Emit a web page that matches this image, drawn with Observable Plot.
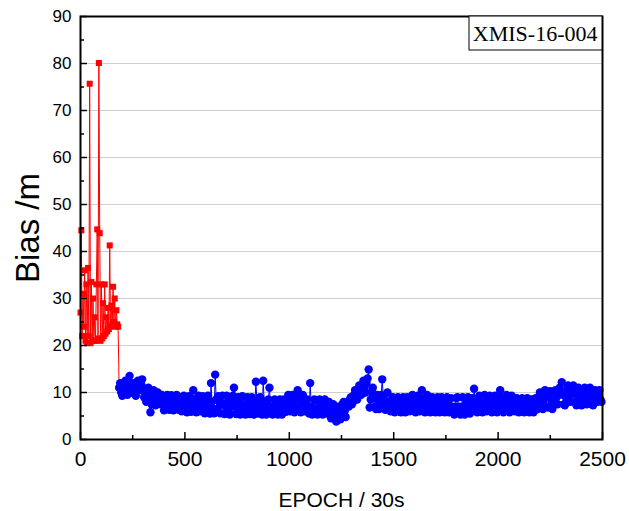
<!DOCTYPE html>
<html>
<head>
<meta charset="utf-8">
<script src="https://cdn.jsdelivr.net/npm/d3@7"></script>
<script src="https://cdn.jsdelivr.net/npm/@observablehq/plot@0.6"></script>
<style>
  html, body { margin: 0; padding: 0; background: #fff; }
  #chart { width: 629px; height: 511px; }
</style>
</head>
<body>
<div id="chart"></div>
<script>
// ---- data ----
const stationName = "XMIS-16-004";
const xTickLabels = [0, 500, 1000, 1500, 2000, 2500];
const yTickLabels = [0, 10, 20, 30, 40, 50, 60, 70, 80, 90];

// red series: epochs 0..180, step 4
const redStart = 0, redStep = 4;
const redBias = [27, 44.5, 22, 31, 24, 36, 21, 33, 20.5, 36.5,
                 22, 75.7, 20.5, 33.5, 21, 30, 21, 26, 21, 33,
                 44.7, 21.5, 80.1, 43.9, 21, 33, 21.5, 29, 22, 33,
                 22.5, 26, 23, 28, 23.5, 41.3, 24, 28.5, 24.5, 32.5,
                 25, 30, 24, 27.5, 24.5, 24];

// blue series: epochs 185..2495, step 5 (one row = 100 epochs)
const blueStart = 185, blueStep = 5;
const blueBias = [
  11, 12, 10, 9.3, 10.5, 11.5, 12.5, 11, 9.5, 11, 13.5, 12, 10, 11, 12, 9.8, 9.3, 11, 12.5, 11.5,
  10.5, 12, 12.8, 11, 9, 10, 8, 9.5, 11, 10, 5.8, 7.5, 9, 10.5, 9, 7.3, 8.5, 10, 7.8, 9,
  7.5, 9.5, 8, 6.2, 7, 9, 9.5, 7.5, 6.3, 8, 9.4, 7.8, 6.2, 6.8, 8.5, 9.5, 7.5, 6.3, 8, 9,
  6, 7.5, 9.3, 8.5, 6.5, 5.8, 7.5, 9.2, 8, 5.9, 7.5, 10.5, 8.5, 6.5, 5.8, 8, 9.3, 7.5, 6, 8.5,
  9.2, 7.5, 5.6, 6.5, 8.5, 9.3, 7.5, 5.5, 12, 8, 6.5, 5.6, 13.8, 8.5, 6.5, 9.2, 8, 5.6, 7.5, 9.3,
  7.5, 5.4, 7, 9.3, 8, 6, 5.3, 7, 8.5, 9.3, 11, 7.5, 5.4, 6.5, 9, 7, 5.3, 7.5, 9.2, 7.5,
  6, 5.3, 7, 9, 7.5, 5.4, 8, 9, 6.5, 5.3, 7.5, 12.3, 8, 5.5, 7, 9, 7, 5.3, 12.5, 8,
  6.5, 5.3, 7.5, 8.5, 11, 7, 5.5, 5.3, 7, 8.5, 7.5, 5.6, 5.3, 7, 8.5, 6.5, 5.3, 7, 8.5, 7.5,
  5.9, 7.5, 9.5, 8, 6, 7.5, 9.5, 8, 5.8, 7, 8.5, 10.5, 9, 6.5, 5.8, 8, 9.5, 8, 6, 7.5,
  8.5, 7, 5.5, 12, 7, 5.3, 6.5, 8.5, 8.3, 6.5, 5.3, 6.5, 8.5, 7.5, 5.5, 5.3, 7, 8.5, 7, 5.5,
  7.5, 8, 6, 4.5, 6, 7.5, 5.5, 4.3, 3.8, 5.5, 7, 6, 4.3, 6, 7.5, 8, 6, 4.8, 7, 8,
  7, 8.5, 9, 7.5, 8, 9.5, 10.5, 9, 8.5, 10, 11.5, 10, 9.5, 11, 12.5, 11, 10, 12, 13, 14.9,
  6.8, 8.5, 10, 11, 9, 7, 6.5, 9.5, 8.5, 6.5, 8, 9.5, 12.8, 9, 6.8, 6.3, 8, 10, 8, 6.5,
  6, 8, 9, 7.5, 5.8, 7, 8.5, 9, 7, 5.9, 5.8, 7.5, 9, 7, 5.8, 7.5, 9, 8, 6, 7,
  8.5, 9.5, 8, 6, 5.8, 7.5, 9.3, 8, 6, 7, 10.5, 8.5, 6.5, 5.8, 7.5, 9.5, 8.5, 6.5, 5.8, 7.5,
  9, 8, 6, 5.8, 7.5, 9, 7, 5.8, 7, 9, 8, 6, 5.8, 7.5, 9, 7.5, 5.8, 7, 8.8, 7,
  5.8, 5.3, 7, 8.8, 9, 7, 5.5, 5.3, 7, 9, 7, 5.3, 6.5, 8, 9, 7.5, 5.5, 7, 8.8, 7.5,
  10.8, 8.5, 6.5, 5.8, 7.5, 9.3, 8, 6, 5.8, 7.5, 9.5, 8, 6, 7, 8.5, 9.3, 7.5, 5.8, 7, 8.5,
  9.3, 7.5, 5.8, 7, 8.5, 10.5, 9, 7, 5.8, 6.5, 8, 9.5, 8, 6, 5.8, 7.5, 9.3, 8.5, 6.5, 6,
  7.5, 8.8, 7.5, 5.8, 6.5, 8, 8.8, 7, 5.8, 7, 8.5, 8.8, 6.5, 5.8, 7.5, 8.5, 7, 5.8, 7.5, 8.8,
  8, 6.5, 8.5, 10, 9, 7, 6.5, 8.5, 10.5, 9, 7, 6.8, 9.5, 10.3, 8.5, 6.5, 8, 9.5, 10.5, 9,
  7.5, 9.5, 11, 10, 12.2, 9.5, 7.5, 7.3, 9, 10.5, 11.5, 10, 8, 9.5, 11, 11.5, 10, 8, 7.3, 9.5,
  11, 10, 8, 7.3, 9, 10.5, 11, 9, 7.5, 9, 10.5, 11, 9.5, 7.5, 7.3, 9, 10.5, 10, 8, 9.5,
  10.5, 8.5, 8
];

// ---- build tables ----
const red = redBias.map((v, i) => ({epoch: redStart + i * redStep, bias: v}));
const blue = blueBias.map((v, i) => ({epoch: blueStart + i * blueStep, bias: v}));
const redLine = red.concat([blue[0]]);

const W = 629, H = 511, mL = 80, mR = 27, mT = 16, mB = 72;
const plotW = W - mL - mR, plotH = H - mT - mB;

const majorX = d3.range(0, 2501, 500), minorX = d3.range(250, 2500, 500);
const majorY = d3.range(0, 91, 10), minorY = d3.range(5, 90, 10);

const chart = Plot.plot({
  width: W, height: H,
  marginLeft: mL, marginRight: mR, marginTop: mT, marginBottom: mB,
  style: {fontFamily: "'Liberation Sans', Arial, sans-serif", background: "#fff", color: "#000"},
  x: {domain: [0, 2500]},
  y: {domain: [0, 90]},
  marks: [
    Plot.gridY(d3.range(10, 90, 10), {stroke: "#cfcfcf", strokeOpacity: 1, strokeWidth: 1}),
    Plot.line(redLine, {x: "epoch", y: "bias", stroke: "#ff0000", strokeWidth: 1}),
    Plot.dot(red, {x: "epoch", y: "bias", symbol: "square", r: 3.4, fill: "#ff0000", stroke: "none"}),
    Plot.line(blue, {x: "epoch", y: "bias", stroke: "#0000ff", strokeWidth: 1}),
    Plot.dot(blue, {x: "epoch", y: "bias", r: 4.2, fill: "#0000ff", stroke: "none"}),
    // inward ticks
    Plot.ruleX(majorX, {x: d => d, insetTop: plotH - 7, stroke: "#000", strokeWidth: 1.5}),
    Plot.ruleX(minorX, {x: d => d, insetTop: plotH - 4, stroke: "#000", strokeWidth: 1.5}),
    Plot.ruleY(majorY, {y: d => d, insetRight: plotW - 7, stroke: "#000", strokeWidth: 1.5}),
    Plot.ruleY(minorY, {y: d => d, insetRight: plotW - 4, stroke: "#000", strokeWidth: 1.5}),
    Plot.frame({stroke: "#000", strokeWidth: 2}),
    Plot.axisX(xTickLabels, {tickSize: 0, tickPadding: 12, fontSize: 21, label: null, tickFormat: "d"}),
    Plot.axisY(yTickLabels, {tickSize: 0, tickPadding: 9, fontSize: 17, label: null, tickFormat: "d"}),
    Plot.text(["EPOCH / 30s"], {frameAnchor: "bottom", dy: 67, fontSize: 21, fill: "#000"}),
    Plot.text(["Bias /m"], {frameAnchor: "left", textAnchor: "middle", dx: -52, rotate: -90, fontSize: 33, fill: "#000"}),
    Plot.text([stationName], {frameAnchor: "top-right", dx: -5, dy: 17, fontSize: 22,
      fontFamily: "'Liberation Serif', 'Times New Roman', serif", fill: "#000", textAnchor: "end", lineAnchor: "middle"})
  ]
});

document.getElementById("chart").appendChild(chart);

// box around the station label
const svgBox = chart.getBoundingClientRect();
chart.querySelectorAll("text").forEach(t => {
  if (t.textContent === stationName) {
    const bb = t.getBoundingClientRect();
    const ns = "http://www.w3.org/2000/svg";
    const rect = document.createElementNS(ns, "rect");
    const x0 = Math.round(bb.left - svgBox.left) - 4;
    rect.setAttribute("x", x0);
    rect.setAttribute("y", mT);
    rect.setAttribute("width", (W - mR) - x0);
    rect.setAttribute("height", 34);
    rect.setAttribute("fill", "#fff");
    rect.setAttribute("stroke", "#000");
    rect.setAttribute("stroke-width", 1);
    let g = t;
    while (g.parentNode !== chart) g = g.parentNode;
    chart.insertBefore(rect, g);
  }
});
</script>
</body>
</html>
